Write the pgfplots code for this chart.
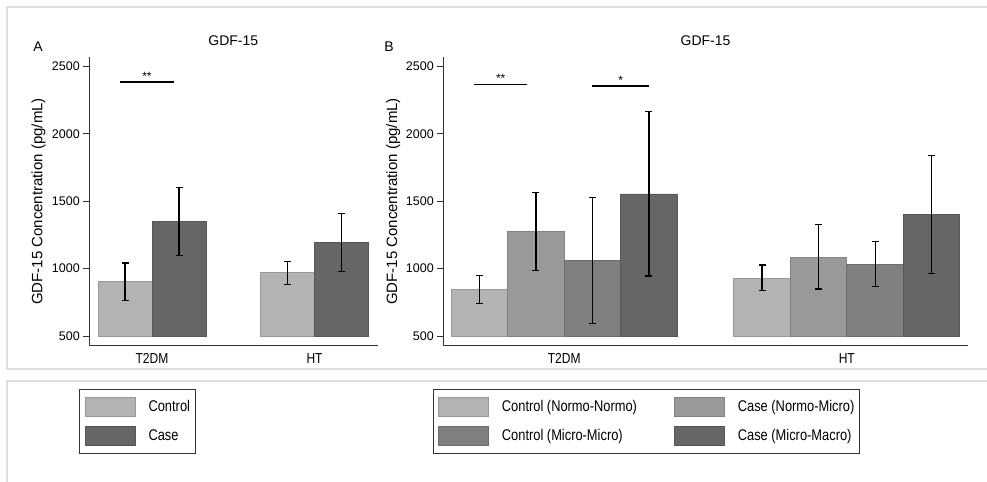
\documentclass[border=0pt]{standalone}
\usepackage{pgfplots}
\pgfplotsset{compat=1.18}
\usepackage{pgfplotstable}
\usepackage{fontspec}
\setmainfont{Liberation Sans}
\newfontfamily\narrowfont{Liberation Sans}[FakeStretch=0.83]

\definecolor{cA}{HTML}{B3B3B3}
\definecolor{cB}{HTML}{999999}
\definecolor{cC}{HTML}{808080}
\definecolor{cD}{HTML}{666666}
\definecolor{framec}{HTML}{DFDFDF}
\definecolor{axisc}{HTML}{333333}

% Panel A data: x position, mean, lower, upper
\pgfplotstableread{
x m lo hi
-0.166 908 765 1042
0.834 970 884 1051
}\AControl
\pgfplotstableread{
x m lo hi
0.166 1353 1099 1601
1.166 1195 977 1408
}\ACase
\pgfplotstableread{
x y
-0.197 2385
0.135 2385
}\ASig

% Panel B data
\pgfplotstableread{
x m lo hi
-0.3 844 740 950
0.7 930 839 1027
}\BOne
\pgfplotstableread{
x m lo hi
-0.1 1279 985 1563
0.9 1086 849 1326
}\BTwo
\pgfplotstableread{
x m lo hi
0.1 1064 594 1529
1.1 1032 866 1200
}\BThree
\pgfplotstableread{
x m lo hi
0.3 1554 945 2165
1.3 1403 965 1838
}\BFour
\pgfplotstableread{
x y
-0.3195 2368
-0.130 2368
}\BSigA
\pgfplotstableread{
x y
0.0998 2355
0.3008 2355
}\BSigB

\pgfplotsset{
  gdf/.style={
    scale only axis, height=289bp,
    ymin=-74.2, ymax=2070.5,
    ytick={0,500,1000,1500,2000},
    yticklabels={500,1000,1500,2000,2500},
    xtick={0,1}, xticklabels={T2DM,HT},
    axis x line*=bottom, axis y line*=left,
    axis line style={draw=axisc, line width=1bp},
    tick align=outside, major tick length=6bp,
    y tick style={draw=axisc, line width=1bp},
    x tick style={draw=none},
    yticklabel style={font=\fontsize{12.5bp}{15bp}\selectfont, inner xsep=3bp},
    xticklabel style={font=\narrowfont\fontsize{14.5bp}{17bp}\selectfont, inner ysep=1bp},
    /pgf/number format/assume math mode=true,
    ylabel={GDF-15 Concentration (pg/mL)},
    ylabel style={font=\fontsize{15bp}{18bp}\selectfont},
    title={GDF-15},
    title style={font=\fontsize{14bp}{17bp}\selectfont, at={(axis description cs:0.5,1)}, anchor=center, yshift=10bp},
    clip=false,
    legend cell align=left,
    legend style={draw=axisc, line width=0.9bp,
      font=\narrowfont\fontsize{15.5bp}{18bp}\selectfont,
      inner xsep=5bp, inner ysep=7.5bp, row sep=10bp, column sep=13bp,
      nodes={inner xsep=0bp, inner ysep=2bp},
      anchor=north west,
      /tikz/every even column/.append style={column sep=37bp}},
  },
  bars/.style={ybar, bar shift=0pt, fill=#1, draw=#1!85!black, line width=0.8bp,
    legend image code/.code={\draw[##1] (0bp,-9.2bp) rectangle (50bp,9.2bp);},
    error bars/.cd, y dir=both, y explicit,
    error bar style={black, line width=1.1bp},
    error mark options={rotate=90, mark size=3.5bp, line width=1.1bp, black}},
  sig/.style={black, line width=1.1bp, forget plot},
}

\begin{document}
\begin{tikzpicture}
\useasboundingbox (0,0) rectangle (987bp,482bp);
% background frames
\draw[framec, line width=2bp] (990bp,475bp) -- (7bp,475bp) -- (7bp,113bp) -- (990bp,113bp);
\draw[framec, line width=2bp] (990bp,101bp) -- (7bp,101bp) -- (7bp,-5bp);

% Panel A
\begin{axis}[gdf, at={(89bp,136bp)}, anchor=south west, width=288.6bp,
  xmin=-0.3877, xmax=1.3877, bar width=0.332,
  ylabel style={at={(axis description cs:-0.175,0.5)}, anchor=center},
  legend style={at={(axis description cs:-0.0336,-0.1498)}}]
\addplot[bars=cA] table[x=x, y expr=\thisrow{m}-500, y error plus expr=\thisrow{hi}-\thisrow{m}, y error minus expr=\thisrow{m}-\thisrow{lo}] {\AControl};
\addlegendentry{Control}
\addplot[bars=cD] table[x=x, y expr=\thisrow{m}-500, y error plus expr=\thisrow{hi}-\thisrow{m}, y error minus expr=\thisrow{m}-\thisrow{lo}] {\ACase};
\addlegendentry{Case}
\addplot[sig] table[x=x, y expr=\thisrow{y}-500] {\ASig} node[pos=0.5, above, inner sep=1bp, font=\fontsize{12bp}{14bp}\selectfont] {**};
\node[font=\fontsize{14bp}{17bp}\selectfont] at (axis description cs:-0.1767,1.0346) {A};
\end{axis}

% Panel B
\begin{axis}[gdf, at={(443bp,136bp)}, anchor=south west, width=525bp,
  xmin=-0.4289, xmax=1.4289, bar width=0.2,
  ylabel style={at={(axis description cs:-0.095,0.5)}, anchor=center},
  legend columns=2,
  legend style={at={(axis description cs:-0.0196,-0.1498)}}]
\addplot[bars=cA] table[x=x, y expr=\thisrow{m}-500, y error plus expr=\thisrow{hi}-\thisrow{m}, y error minus expr=\thisrow{m}-\thisrow{lo}] {\BOne};
\addlegendentry{Control (Normo-Normo)}
\addplot[bars=cB] table[x=x, y expr=\thisrow{m}-500, y error plus expr=\thisrow{hi}-\thisrow{m}, y error minus expr=\thisrow{m}-\thisrow{lo}] {\BTwo};
\addlegendentry{Case (Normo-Micro)}
\addplot[bars=cC] table[x=x, y expr=\thisrow{m}-500, y error plus expr=\thisrow{hi}-\thisrow{m}, y error minus expr=\thisrow{m}-\thisrow{lo}] {\BThree};
\addlegendentry{Control (Micro-Micro)}
\addplot[bars=cD] table[x=x, y expr=\thisrow{m}-500, y error plus expr=\thisrow{hi}-\thisrow{m}, y error minus expr=\thisrow{m}-\thisrow{lo}] {\BFour};
\addlegendentry{Case (Micro-Macro)}
\addplot[sig] table[x=x, y expr=\thisrow{y}-500] {\BSigA} node[pos=0.5, above, inner sep=1bp, font=\fontsize{12bp}{14bp}\selectfont] {**};
\addplot[sig] table[x=x, y expr=\thisrow{y}-500] {\BSigB} node[pos=0.5, above, inner sep=1bp, font=\fontsize{12bp}{14bp}\selectfont] {*};
\node[font=\fontsize{14bp}{17bp}\selectfont] at (axis description cs:-0.1029,1.0346) {B};
\end{axis}
\end{tikzpicture}
\end{document}
